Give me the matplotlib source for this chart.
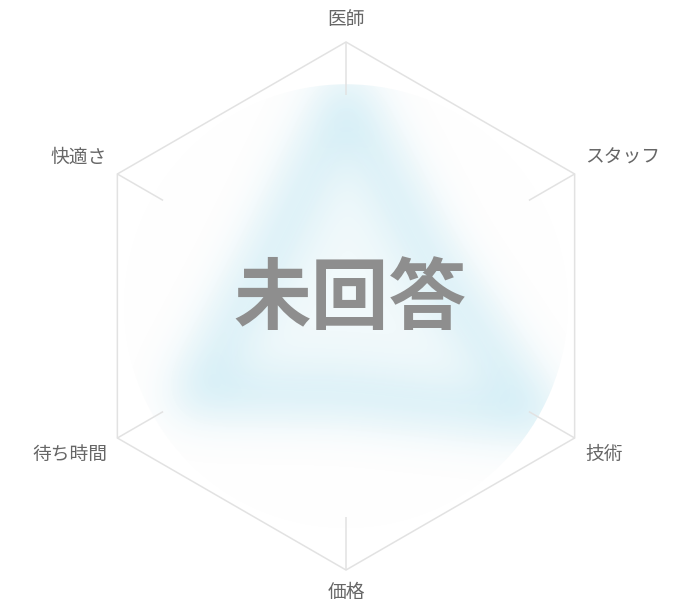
import numpy as np
import matplotlib
matplotlib.use("Agg")
import matplotlib.pyplot as plt
from matplotlib.patches import Polygon, Circle, Wedge

# ---- data ----
categories = ["医師", "スタッフ", "技術", "価格", "待ち時間", "快適さ"]
values = [0.82, 0.38, 0.86, 0.35, 0.68, 0.36]   # blurred (hidden) scores, fraction of max
overlay_text = "未回答"

# ---- layout ----
W, H = 698, 605
CX, CY, R = 346, 306, 264
CLIP_R = 0.84 * R
LABEL_PAD = 12

plt.rcParams['font.family'] = ['Noto Sans CJK JP', 'DejaVu Sans']

fig = plt.figure(figsize=(W / 100, H / 100), dpi=100)
ax = fig.add_axes([0, 0, 1, 1])
ax.set_xlim(0, W)
ax.set_ylim(H, 0)
ax.set_aspect('auto')
ax.axis('off')

n = len(categories)
angles = np.pi / 2 - np.arange(n) * 2 * np.pi / n


def pt(r, a):
    return CX + r * np.cos(a), CY - r * np.sin(a)


# outer hexagon
hex_pts = [pt(R, a) for a in angles]
ax.add_patch(Polygon(hex_pts, closed=True, fill=False, edgecolor='#e2e2e2',
                     linewidth=1.1, zorder=5))
# spokes (inner part is hidden beneath the blur disc anyway)
for a in angles:
    x0, y0 = pt(0.8 * R, a)
    x1, y1 = pt(R, a)
    ax.plot([x0, x1], [y0, y1], color='#e2e2e2', linewidth=1.1, zorder=5,
            solid_capstyle='butt')

# near-white disc
ax.add_patch(Circle((CX, CY), CLIP_R, facecolor='#fefefe', edgecolor='none', zorder=2))


def make_blur(sigma, rgb):
    rgb = np.array(rgb, dtype=float)

    def f(im, dpi):
        pad = int(3 * sigma)
        src = np.pad(im, [(pad, pad), (pad, pad), (0, 0)], "constant")
        alpha = src[:, :, 3]
        x = np.arange(-pad, pad + 1)
        k = np.exp(-0.5 * (x / sigma) ** 2)
        k /= k.sum()
        a1 = np.apply_along_axis(lambda m: np.convolve(m, k, mode='same'), 0, alpha)
        a2 = np.apply_along_axis(lambda m: np.convolve(m, k, mode='same'), 1, a1)
        out = np.empty_like(src)
        out[:, :, 0] = rgb[0]
        out[:, :, 1] = rgb[1]
        out[:, :, 2] = rgb[2]
        out[:, :, 3] = np.clip(a2, 0, 1)
        return out, -pad, -pad
    return f


base = (110 / 255, 200 / 255, 228 / 255)
data_pts = [pt(v * R, a) for v, a in zip(values, angles)]
fill_poly = Polygon(data_pts, closed=True, facecolor=(*base, 0.09), edgecolor='none', zorder=3)
fill_poly.set_agg_filter(make_blur(18, base))
ax.add_patch(fill_poly)
edge_poly = Polygon(data_pts, closed=True, facecolor='none', edgecolor=(*base, 0.25),
                    linewidth=30, joinstyle='round', zorder=3)
edge_poly.set_agg_filter(make_blur(22, base))
ax.add_patch(edge_poly)

# white ring clipping the blurred area to a circle
ax.add_patch(Wedge((CX, CY), R * 1.15, 0, 360, width=R * 1.15 - CLIP_R,
                   facecolor='white', edgecolor='none', zorder=4))

# axis labels
for lab, a in zip(categories, angles):
    x, y = pt(R + LABEL_PAD, a)
    c = np.cos(a)
    s = np.sin(a)
    if abs(c) < 1e-6:
        ha = 'center'
    elif c > 0:
        ha = 'left'
    else:
        ha = 'right'
    va = 'bottom' if s > 1e-6 else 'top'
    ax.text(x, y, lab, ha=ha, va=va, fontsize=13.5, color='#666666', zorder=10)

ax.text(CX + 4, CY - 6, overlay_text, ha='center', va='center', fontsize=56,
        fontweight='bold', color='#8e8e8e', zorder=10)

fig.savefig("out.png", dpi=100)
